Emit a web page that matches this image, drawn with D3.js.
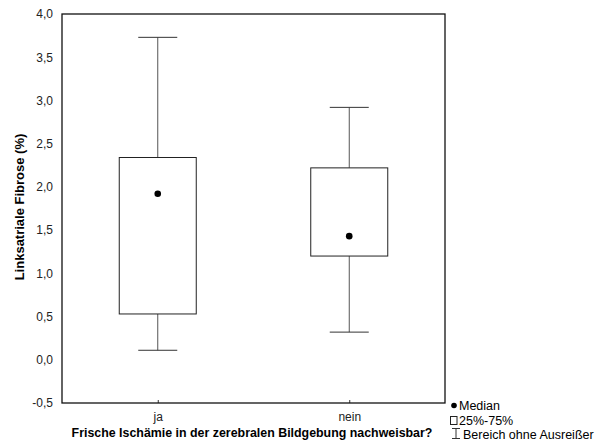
<!DOCTYPE html>
<html>
<head>
<meta charset="utf-8">
<script src="https://cdn.jsdelivr.net/npm/d3@7"></script>
<style>
  body { margin: 0; background: #fff; }
  svg { font-family: "Liberation Sans", Arial, sans-serif; }
</style>
</head>
<body>
<svg id="chart" width="597" height="447"></svg>
<script>
// groups and box statistics
var groups = ['ja', 'nein'];
var whiskerLow = [0.11, 0.32];
var q1 = [0.53, 1.20];
var medians = [1.92, 1.43];
var q3 = [2.34, 2.22];
var whiskerHigh = [3.73, 2.92];
var yTicks = [-0.5, 0, 0.5, 1, 1.5, 2, 2.5, 3, 3.5, 4];

var svg = d3.select('#chart');
var plotLeft = 62, plotRight = 445, plotTop = 14, plotBottom = 403;

var x = d3.scalePoint().domain(groups).range([plotLeft, plotRight]).padding(0.5);
var y = d3.scaleLinear().domain([-0.5, 4]).range([plotBottom, plotTop]);
// German decimal comma, plain hyphen for negatives
var fmt = function(d) { return d.toFixed(1).replace('.', ','); };

// y axis labels (no tick marks)
svg.append('g')
  .attr('transform', 'translate(' + plotLeft + ',0)')
  .call(d3.axisLeft(y).tickValues(yTicks).tickSize(0).tickPadding(9).tickFormat(fmt))
  .call(function(g) { g.select('.domain').remove(); })
  .selectAll('text')
  .attr('font-size', '12px')
  .attr('fill', '#222')
  .style('font-family', '"Liberation Sans", Arial, sans-serif');

// x axis with small inward ticks
svg.append('g')
  .attr('transform', 'translate(0,' + plotBottom + ')')
  .call(d3.axisBottom(x).tickSize(-3).tickPadding(9))
  .call(function(g) { g.select('.domain').remove(); })
  .call(function(g) { g.selectAll('line').attr('stroke', '#333'); })
  .selectAll('text')
  .attr('font-size', '12px')
  .attr('fill', '#222')
  .style('font-family', '"Liberation Sans", Arial, sans-serif');

// frame
svg.append('rect')
  .attr('x', plotLeft).attr('y', plotTop)
  .attr('width', plotRight - plotLeft).attr('height', plotBottom - plotTop)
  .attr('fill', 'none').attr('stroke', '#111').attr('stroke-width', 1.3);

var boxW = 77, capW = 39;
var boxes = svg.selectAll('.box').data(groups).enter().append('g').attr('class', 'box');

// whiskers
boxes.append('line')
  .attr('x1', function(d) { return x(d); }).attr('x2', function(d) { return x(d); })
  .attr('y1', function(d, i) { return y(whiskerHigh[i]); })
  .attr('y2', function(d, i) { return y(q3[i]); })
  .attr('stroke', '#555');
boxes.append('line')
  .attr('x1', function(d) { return x(d); }).attr('x2', function(d) { return x(d); })
  .attr('y1', function(d, i) { return y(q1[i]); })
  .attr('y2', function(d, i) { return y(whiskerLow[i]); })
  .attr('stroke', '#555');
boxes.append('line')
  .attr('x1', function(d) { return x(d) - capW / 2; }).attr('x2', function(d) { return x(d) + capW / 2; })
  .attr('y1', function(d, i) { return y(whiskerHigh[i]); })
  .attr('y2', function(d, i) { return y(whiskerHigh[i]); })
  .attr('stroke', '#333');
boxes.append('line')
  .attr('x1', function(d) { return x(d) - capW / 2; }).attr('x2', function(d) { return x(d) + capW / 2; })
  .attr('y1', function(d, i) { return y(whiskerLow[i]); })
  .attr('y2', function(d, i) { return y(whiskerLow[i]); })
  .attr('stroke', '#333');

// boxes
boxes.append('rect')
  .attr('x', function(d) { return x(d) - boxW / 2; })
  .attr('y', function(d, i) { return y(q3[i]); })
  .attr('width', boxW)
  .attr('height', function(d, i) { return y(q1[i]) - y(q3[i]); })
  .attr('fill', '#fff').attr('stroke', '#222');

// medians
boxes.append('circle')
  .attr('cx', function(d) { return x(d); })
  .attr('cy', function(d, i) { return y(medians[i]); })
  .attr('r', 3.3).attr('fill', '#000');

// axis titles
svg.append('text')
  .attr('transform', 'translate(24,207) rotate(-90)')
  .attr('text-anchor', 'middle')
  .attr('font-size', '13px').attr('font-weight', 'bold')
  .text('Linksatriale Fibrose (%)');

svg.append('text')
  .attr('x', 252).attr('y', 437)
  .attr('text-anchor', 'middle')
  .attr('font-size', '12.4px').attr('font-weight', 'bold')
  .text('Frische Ischämie in der zerebralen Bildgebung nachweisbar?');

// legend
var lg = svg.append('g').attr('font-size', '12.5px');
lg.append('circle').attr('cx', 454).attr('cy', 405.5).attr('r', 2.8).attr('fill', '#000');
lg.append('text').attr('x', 459).attr('y', 409.5).text('Median');
lg.append('rect').attr('x', 450.5).attr('y', 416.5).attr('width', 6.5).attr('height', 8)
  .attr('fill', 'none').attr('stroke', '#222');
lg.append('text').attr('x', 459).attr('y', 425).text('25%-75%');
lg.append('path').attr('d', 'M452,428.5H460M456,428.5V438.5M452,438.5H460')
  .attr('fill', 'none').attr('stroke', '#333');
lg.append('text').attr('x', 463).attr('y', 439).text('Bereich ohne Ausreißer');
</script>
</body>
</html>
